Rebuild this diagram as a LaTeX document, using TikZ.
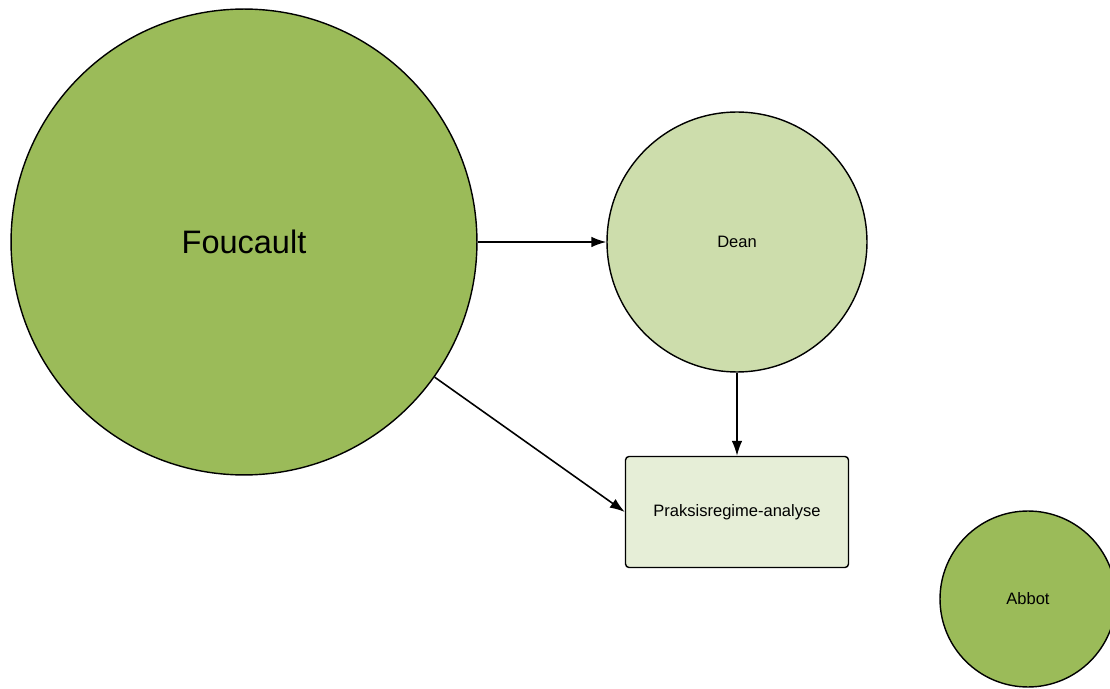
\documentclass[tikz,border=0pt]{standalone}
\usepackage{fontspec}
\setmainfont{Liberation Sans}
\usepackage{xcolor}
\usetikzlibrary{arrows.meta,positioning}
\definecolor{leafgreen}{HTML}{9BBB59}
\definecolor{palegreen}{HTML}{CDDDAC}
\definecolor{boxgreen}{HTML}{E6EED7}

\begin{document}
\begin{tikzpicture}[x=0.02cm,y=-0.02cm,
  bubble/.style={circle, draw=black, line width=0.8pt, inner sep=0pt},
  boxnode/.style={rectangle, draw=black, line width=0.8pt, rounded corners=2pt,
    fill=boxgreen, minimum width=4.46cm, minimum height=2.22cm},
  smalltext/.style={font=\fontsize{9.4}{11}\selectfont},
  link/.style={-{Latex[length=8.5pt,width=6pt]}, line width=0.9pt}]

 \useasboundingbox (0,0) rectangle (1110,689);

 %circles
 \node[bubble, fill=leafgreen, minimum size=9.32cm,
   font=\fontsize{18.5}{22}\selectfont] (foucault) at (244,242) {Foucault};
 \node[bubble, fill=palegreen, minimum size=5.2cm, smalltext] (dean) at (737,242) {Dean};
 \node[bubble, fill=leafgreen, minimum size=3.52cm, smalltext] (abbot) at (1028,599) {Abbot};

 %box
 \node[boxnode, smalltext] (praksis) at (737,512) {Praksisregime-analyse};

 %arrows
 \draw[link] (foucault) -- (dean);
 \draw[link] (dean) -- (praksis);
 \draw[link] (foucault) -- (praksis.west);
\end{tikzpicture}
\end{document}
